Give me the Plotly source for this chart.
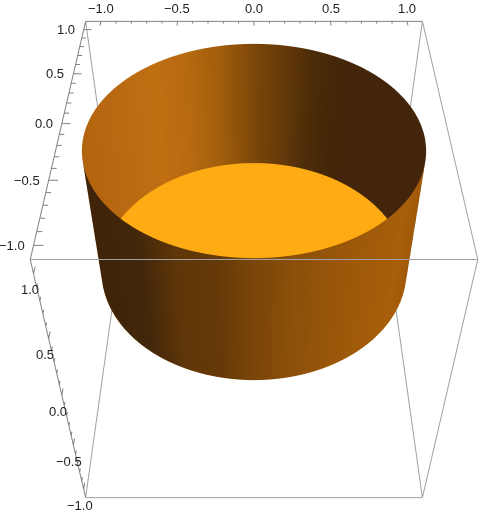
import numpy as np
import plotly.graph_objects as go

# wall shading: angle round the cylinder (deg) -> colour
inner_angles = [-14, 15, 40, 59, 69, 78, 88, 96, 104, 117, 130, 149, 170, 194]
inner_colors = ['#42250a', '#42250a', '#42250a', '#442708', '#4f2e08', '#65390a', '#774408',
                '#8e510a', '#a35f0c', '#b86a10', '#c06f12', '#b96a11', '#b5650f', '#b0620e']
outer_angles = [194, 214, 232, 246, 259, 271, 283, 296, 311, 325, 338, 346]
outer_colors = ['#3f2408', '#40240a', '#43270a', '#5f3608', '#663a08', '#7b4608',
                '#8c500a', '#995609', '#a25b0a', '#a85e0a', '#a25a0a', '#a05a0c']
disk_color = '#ffab14'

box_min, box_max = -1.1, 1.1
wall_radius = 0.99
wall_bottom, wall_top = 0.0, 1.0
tick_major = [-1.0, -0.5, 0.0, 0.5, 1.0]
tick_minor = [-0.9, -0.8, -0.7, -0.6, -0.4, -0.3, -0.2, -0.1,
              0.1, 0.2, 0.3, 0.4, 0.6, 0.7, 0.8, 0.9]
tick_text = ['\u22121.0', '\u22120.5', '0.0', '0.5', '1.0']

box_color = '#a0a0a0'
axis_color = '#808080'
text_color = '#222222'


def colorscale(angles, colors):
    lo, hi = angles[0], angles[-1]
    return [[(a - lo) / (hi - lo), c] for a, c in zip(angles, colors)]


def wall(angles, colors):
    theta = np.linspace(angles[0], angles[-1], 160)
    zz = np.array([wall_bottom, wall_top])
    tt, zgrid = np.meshgrid(theta, zz)
    return go.Surface(x=wall_radius * np.cos(np.radians(tt)), y=wall_radius * np.sin(np.radians(tt)),
                      z=zgrid, surfacecolor=tt, colorscale=colorscale(angles, colors),
                      cmin=angles[0], cmax=angles[-1], showscale=False, hoverinfo='skip',
                      lighting=dict(ambient=1, diffuse=0, specular=0, fresnel=0))


def segments(pairs):
    xs, ys, zs = [], [], []
    for a, b in pairs:
        xs += [a[0], b[0], None]
        ys += [a[1], b[1], None]
        zs += [a[2], b[2], None]
    return xs, ys, zs


# bottom disk
rr, tt = np.meshgrid(np.linspace(0, wall_radius, 20), np.radians(np.linspace(0, 360, 181)))
disk = go.Surface(x=rr * np.cos(tt), y=rr * np.sin(tt), z=np.full(rr.shape, wall_bottom),
                  surfacecolor=np.zeros(rr.shape), cmin=0, cmax=1,
                  colorscale=[[0, disk_color], [1, disk_color]], showscale=False,
                  hoverinfo='skip', lighting=dict(ambient=1, diffuse=0, specular=0, fresnel=0))

# bounding box
lo, hi = box_min, box_max
edges = [((lo, lo, lo), (hi, lo, lo)), ((lo, hi, lo), (hi, hi, lo)),
         ((lo, lo, hi), (hi, lo, hi)), ((lo, hi, hi), (hi, hi, hi)),
         ((lo, lo, lo), (lo, hi, lo)), ((hi, lo, lo), (hi, hi, lo)),
         ((lo, lo, hi), (lo, hi, hi)), ((hi, lo, hi), (hi, hi, hi)),
         ((lo, lo, lo), (lo, lo, hi)), ((hi, lo, lo), (hi, lo, hi)),
         ((lo, hi, lo), (lo, hi, hi)), ((hi, hi, lo), (hi, hi, hi))]
ex, ey, ez = segments(edges)
box = go.Scatter3d(x=ex, y=ey, z=ez, mode='lines', line=dict(color=box_color, width=2),
                   hoverinfo='skip', showlegend=False)

# the edges that carry ticks are drawn darker, with their ticks
axis_pairs = [((lo, lo, hi), (lo, hi, hi)), ((lo, lo, lo), (lo, lo, hi)),
              ((lo, hi, hi), (hi, hi, hi))]
for values, size in [(tick_major, 0.05), (tick_minor, 0.028)]:
    for v in values:
        axis_pairs.append(((v, hi, hi), (v, hi - size, hi)))
        axis_pairs.append(((lo, v, hi), (lo + size, v, hi)))
        axis_pairs.append(((lo, lo, v), (lo, lo + size, v)))
tx, ty, tz = segments(axis_pairs)
ticks = go.Scatter3d(x=tx, y=ty, z=tz, mode='lines', line=dict(color=axis_color, width=2),
                     hoverinfo='skip', showlegend=False)

annotations = []
font = dict(family='Liberation Sans', size=13, color=text_color)
for v, t in zip(tick_major, tick_text):
    annotations.append(dict(x=v, y=hi, z=hi, text=t, showarrow=False, font=font,
                            xanchor='center', yanchor='middle', yshift=13))
    annotations.append(dict(x=lo, y=v, z=hi, text=t, showarrow=False, font=font,
                            xanchor='right', yanchor='middle', xshift=-7))
    annotations.append(dict(x=lo, y=lo, z=v, text=t, showarrow=False, font=font,
                            xanchor='center', yanchor='middle', xshift=-4, yshift=-16))

hidden = dict(visible=False, range=[box_min, box_max])
fig = go.Figure(data=[wall(inner_angles, inner_colors), wall(outer_angles, outer_colors),
                      disk, box, ticks])
# wider than the window: the chart is centred at x=254, not 240
fig.update_layout(
    width=508, height=797, autosize=False, showlegend=False,
    margin=dict(l=0, r=0, t=0, b=0), paper_bgcolor='white',
    scene=dict(xaxis=hidden, yaxis=hidden, zaxis=hidden,
               aspectmode='manual', aspectratio=dict(x=1, y=1, z=1),
               camera=dict(eye=dict(x=0, y=-2.02, z=2.02), up=dict(x=0, y=0, z=1),
                           center=dict(x=0, y=0, z=0)),
               annotations=annotations))

# plotly's field of view is fixed, so the tall scene is slid up to get the narrow view
shift = ("document.body.style.margin='0';document.body.style.overflow='hidden';"
         "document.querySelector('.plotly-graph-div').style.marginTop='-139px';")
fig.write_html("out.html", post_script=shift)
